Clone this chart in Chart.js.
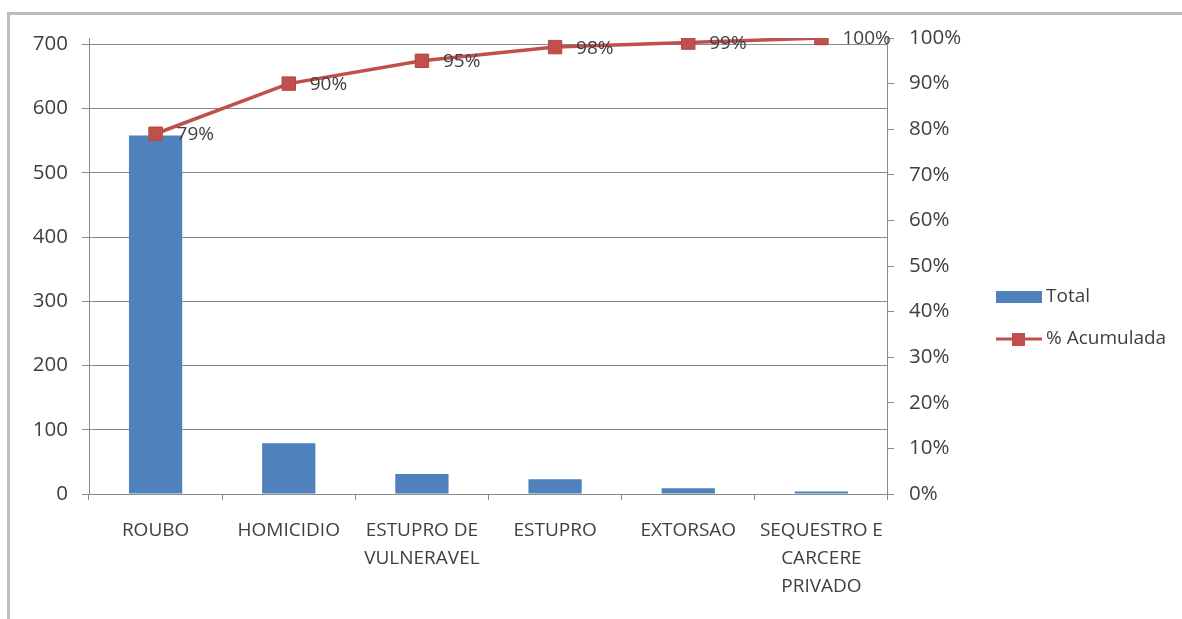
<!DOCTYPE html>
<html>
<head>
<meta charset="utf-8">
<title>Total e % Acumulada por crime</title>
<script src="https://cdn.jsdelivr.net/npm/chart.js@4"></script>
<style>
  html, body { margin: 0; padding: 0; background: #ffffff; overflow: hidden; }
  #frame {
    position: absolute; left: 7px; top: 12px; width: 1400px; height: 800px;
    border: 3px solid #bdbdbd; box-sizing: border-box;
  }
  #wrap { position: absolute; left: 0; top: 0; width: 1182px; height: 619px; }
</style>
</head>
<body>
<div id="frame"></div>
<div id="wrap"><canvas id="chart" width="1182" height="619"></canvas></div>
<script>
// Crime categories (multi-line labels as arrays)
const categories = [
  'ROUBO',
  'HOMICIDIO',
  ['ESTUPRO DE', 'VULNERAVEL'],
  'ESTUPRO',
  'EXTORSAO',
  ['SEQUESTRO E', 'CARCERE', 'PRIVADO']
];
// Number of occurrences per category
const totals = [558, 79, 31, 23, 9, 4];
// Cumulative share, in percent
const cumulativePct = [79, 90, 95, 98, 99, 100];
// Axis tick values
const countTicks = [0, 100, 200, 300, 400, 500, 600, 700];
const pctTicks = [0, 10, 20, 30, 40, 50, 60, 70, 80, 90, 100];

const BLUE = '#4f81bd';
const RED = '#c0504d';
const AXIS = '#8a8a8a';
const TEXT = '#404040';
const FONT_FAMILY = '"Open Sans", sans-serif';
const FONT_SIZE = 19;
const VALUE_FONT_SIZE = 20.5;

// Layout constants
const PLOT_LEFT = 89;
const PLOT_RIGHT = 886;
const PLOT_TOP = 38;
const PLOT_BOTTOM = 494;
const PAD_BOTTOM = 21;
const LEGEND_BOX = 35;
const LEGEND_PAD = 23;
const LEGEND_ITEM_X = 999.5;

function legendSwatch(kind) {
  const c = document.createElement('canvas');
  c.width = 46; c.height = 16;
  const g = c.getContext('2d');
  if (kind === 'bar') {
    g.fillStyle = BLUE;
    g.fillRect(0, 2, 46, 12);
  } else {
    g.strokeStyle = RED;
    g.lineWidth = 3;
    g.beginPath(); g.moveTo(0, 8); g.lineTo(46, 8); g.stroke();
    g.fillStyle = RED;
    g.fillRect(16, 2, 13, 13);
  }
  return c;
}

function draw() {
  Chart.defaults.font.family = FONT_FAMILY;
  Chart.defaults.font.size = FONT_SIZE;
  Chart.defaults.color = TEXT;

  // Size the legend so its items start where wanted
  const m = document.createElement('canvas').getContext('2d');
  m.font = FONT_SIZE + 'px ' + FONT_FAMILY;
  const maxText = Math.max(m.measureText('Total').width, m.measureText('% Acumulada').width);
  const maxItemWidth = LEGEND_BOX + FONT_SIZE / 2 + maxText;
  const legendWidth = LEGEND_PAD + maxItemWidth + 10;
  const padRight = Math.max(0, 1182 - (LEGEND_ITEM_X - LEGEND_PAD) - legendWidth);
  const legendLeft = 1182 - padRight - legendWidth;
  const rightAxisWidth = legendLeft - PLOT_RIGHT;

  const swatches = [legendSwatch('bar'), legendSwatch('line')];

  const pointLabels = {
    id: 'pointLabels',
    afterDatasetsDraw(chart) {
      const meta = chart.getDatasetMeta(1);
      const ctx = chart.ctx;
      ctx.save();
      ctx.font = FONT_SIZE + 'px ' + FONT_FAMILY;
      ctx.fillStyle = TEXT;
      ctx.textAlign = 'left';
      ctx.textBaseline = 'middle';
      meta.data.forEach((pt, i) => {
        ctx.fillText(cumulativePct[i] + '%', pt.x + 21, pt.y + 1);
      });
      ctx.restore();
    }
  };

  new Chart(document.getElementById('chart'), {
    type: 'bar',
    data: {
      labels: categories,
      datasets: [
        {
          type: 'bar',
          label: 'Total',
          data: totals,
          backgroundColor: BLUE,
          borderWidth: 0,
          barPercentage: 1.0,
          categoryPercentage: 0.4,
          yAxisID: 'y',
          order: 1
        },
        {
          type: 'line',
          label: '% Acumulada',
          data: cumulativePct,
          borderColor: RED,
          borderWidth: 3.5,
          backgroundColor: RED,
          pointStyle: 'rect',
          pointRadius: 9.5,
          pointBorderWidth: 1,
          pointBorderColor: '#b64541',
          pointBackgroundColor: RED,
          tension: 0,
          fill: false,
          yAxisID: 'y1',
          order: 0
        }
      ]
    },
    options: {
      responsive: false,
      animation: false,
      devicePixelRatio: 1,
      layout: { padding: { top: PLOT_TOP, left: 0, right: padRight, bottom: PAD_BOTTOM } },
      plugins: {
        tooltip: { enabled: false },
        legend: {
          position: 'right',
          align: 'center',
          labels: {
            usePointStyle: true,
            pointStyleWidth: LEGEND_BOX,
            boxHeight: 14,
            padding: LEGEND_PAD,
            color: TEXT,
            font: { size: FONT_SIZE, family: FONT_FAMILY },
            generateLabels: () => [
              { text: 'Total', pointStyle: swatches[0], datasetIndex: 0, fontColor: TEXT, lineWidth: 0, hidden: false },
              { text: '% Acumulada', pointStyle: swatches[1], datasetIndex: 1, fontColor: TEXT, lineWidth: 0, hidden: false }
            ]
          }
        }
      },
      scales: {
        x: {
          type: 'category',
          offset: true,
          grid: {
            offset: true,
            drawOnChartArea: false,
            drawTicks: true,
            tickLength: 6,
            tickColor: AXIS
          },
          border: { display: true, color: AXIS, width: 1 },
          ticks: {
            autoSkip: false,
            maxRotation: 0,
            minRotation: 0,
            padding: 17,
            color: TEXT,
            font: { size: FONT_SIZE, lineHeight: 28 / FONT_SIZE }
          },
          afterFit: s => { s.height = 619 - PAD_BOTTOM - PLOT_BOTTOM; }
        },
        y: {
          position: 'left',
          min: 0,
          max: 710,
          grid: {
            color: AXIS,
            lineWidth: 1,
            drawTicks: true,
            tickLength: 7,
            tickColor: AXIS
          },
          border: { display: true, color: AXIS, width: 1 },
          ticks: { stepSize: 100, padding: 14, color: TEXT, font: { size: VALUE_FONT_SIZE } },
          afterBuildTicks: s => { s.ticks = countTicks.map(v => ({ value: v })); },
          afterFit: s => { s.width = PLOT_LEFT; }
        },
        y1: {
          position: 'right',
          min: 0,
          max: 100,
          grid: {
            drawOnChartArea: false,
            drawTicks: true,
            tickLength: 6,
            tickColor: AXIS
          },
          border: { display: true, color: AXIS, width: 1 },
          ticks: {
            stepSize: 10,
            padding: 15,
            color: TEXT,
            font: { size: VALUE_FONT_SIZE },
            callback: v => v + '%'
          },
          afterBuildTicks: s => { s.ticks = pctTicks.map(v => ({ value: v })); },
          afterFit: s => { s.width = rightAxisWidth; }
        }
      }
    },
    plugins: [pointLabels]
  });
}

if (document.fonts && document.fonts.load) {
  document.fonts.load(FONT_SIZE + 'px "Open Sans"').then(draw, draw);
} else {
  draw();
}
</script>
</body>
</html>
